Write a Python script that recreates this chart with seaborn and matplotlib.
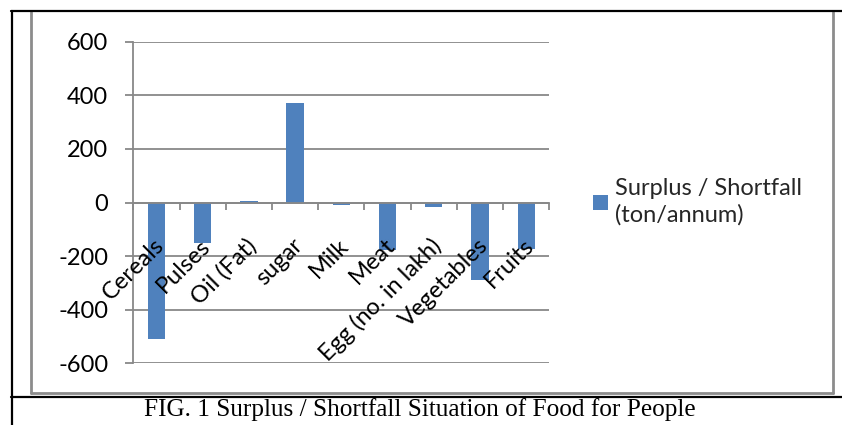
import matplotlib
matplotlib.use("Agg")
import matplotlib.pyplot as plt
from matplotlib.lines import Line2D
from matplotlib.patches import Rectangle
from matplotlib.transforms import ScaledTranslation
import seaborn as sns
import numpy as np
import pandas as pd

categories = ["Cereals", "Pulses", "Oil (Fat)", "sugar", "Milk", "Meat",
              "Egg (no. in lakh)", "Vegetables", "Fruits"]
values = [-509, -150, 5, 373, -9, -178, -17, -289, -175]
series_name = "Surplus / Shortfall\n(ton/annum)"
y_ticks = [-600, -400, -200, 0, 200, 400, 600]
caption = "FIG. 1 Surplus / Shortfall Situation of Food for People"

sns.set_theme(style="white")
plt.rcParams['font.family'] = ['Lato', 'DejaVu Sans']

W, H = 842, 425
fig = plt.figure(figsize=(W / 100, H / 100), dpi=100)
fig.patch.set_facecolor("white")

def fx(px):
    return px / W

def fy(py):
    return 1 - py / H

ax = fig.add_axes([fx(133.3), fy(363.3), fx(549.3) - fx(133.3), fy(41.7) - fy(363.3)])

df = pd.DataFrame({"category": categories, "value": values})
sns.barplot(data=df, x="category", y="value", color="#4F81BD", saturation=1,
            width=0.375, linewidth=0, ax=ax, zorder=3)

grid_c = "#888888"
FS = 17
ax.set_ylim(y_ticks[0], y_ticks[-1])
ax.set_xlim(-0.5, len(categories) - 0.5)
ax.set_yticks(y_ticks)
ax.set_yticklabels([str(v) for v in y_ticks], fontsize=FS, color="black")
ax.yaxis.grid(True, color=grid_c, lw=1.3, zorder=0)
ax.xaxis.grid(False)
ax.tick_params(axis="y", length=6, width=1.3, color=grid_c, pad=12, direction="out", left=True)

for s in ["top", "right"]:
    ax.spines[s].set_visible(False)
ax.spines["left"].set_color(grid_c)
ax.spines["left"].set_linewidth(1.3)
ax.spines["bottom"].set_position(("data", 0))
ax.spines["bottom"].set_color(grid_c)
ax.spines["bottom"].set_linewidth(1.3)
ax.spines["bottom"].set_zorder(4)
ax.xaxis.set_zorder(5)

ax.set_xticks(np.arange(-0.5, len(categories), 1.0))
ax.set_xticklabels([])
ax.set_xticks(np.arange(len(categories)), minor=True)
ax.set_xticklabels(categories, minor=True, rotation=45, ha="right", va="baseline",
                   rotation_mode="anchor", fontsize=FS, color="black")
ax.tick_params(axis="x", which="major", length=5, width=1.3, color=grid_c, direction="out", bottom=True)
ax.tick_params(axis="x", which="minor", length=0, pad=32, bottom=True)
shift = ScaledTranslation(9 / 100, 0, fig.dpi_scale_trans)
for lab in ax.get_xticklabels(minor=True):
    lab.set_transform(lab.get_transform() + shift)
ax.set_xlabel("")
ax.set_ylabel("")

# legend
handle = Rectangle((0, 0), 1, 1, facecolor="#4F81BD", edgecolor="none")
leg = fig.legend([handle], [series_name], loc="center left",
                 bbox_to_anchor=(fx(584), fy(202)), frameon=False,
                 fontsize=FS, handlelength=0.62, handleheight=0.62,
                 handletextpad=0.3, borderaxespad=0, labelspacing=0)
for t in leg.get_texts():
    t.set_linespacing(1.3)

# frame lines
def hline(y, x0, x1, c, lw):
    fig.add_artist(Line2D([fx(x0), fx(x1)], [fy(y), fy(y)], color=c, lw=lw, transform=fig.transFigure))

def vline(x, y0, y1, c, lw):
    fig.add_artist(Line2D([fx(x), fx(x)], [fy(y0), fy(y1)], color=c, lw=lw, transform=fig.transFigure))

gray_b = "#8c8c8c"
vline(31.3, 12, 392.7, gray_b, 2.0)
hline(392.7, 31.3, 833.3, gray_b, 2.0)
vline(833.3, 12, 392.7, gray_b, 2.0)
hline(11.3, 11, 842, "black", 1.6)
vline(12, 11, 425, "black", 1.6)
hline(396.5, 11, 842, "black", 1.6)

fig.text(fx(420), fy(410), caption, ha="center", va="center",
         fontsize=18.2, family=["Liberation Serif", "DejaVu Serif"], color="black")

fig.savefig("out.png", dpi=100, facecolor="white")
